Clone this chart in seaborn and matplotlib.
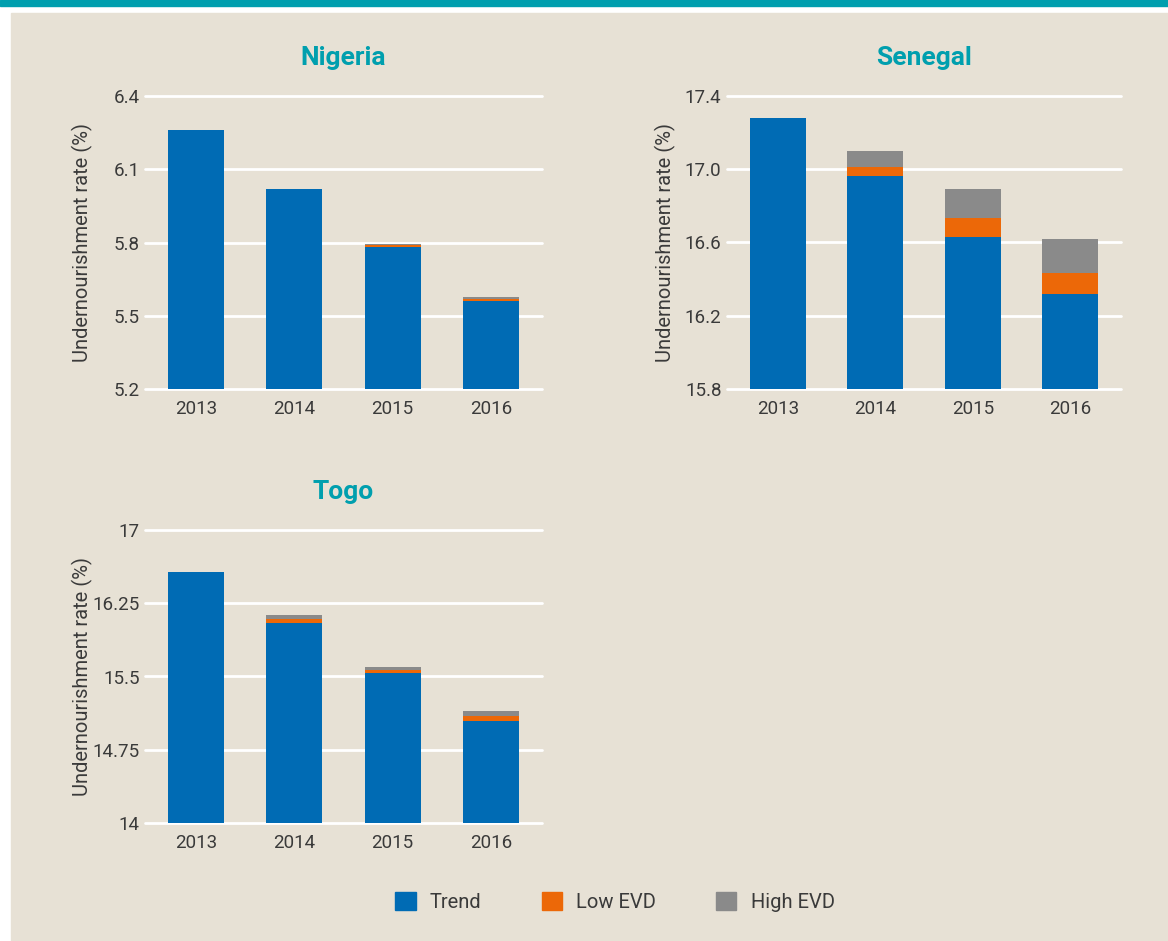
import numpy as np
import pandas as pd
import matplotlib.pyplot as plt
import matplotlib.patches as mpatches
import seaborn as sns

# Data
years = ['2013', '2014', '2015', '2016']

nigeria_trend = [6.26, 6.02, 5.782, 5.560]
nigeria_low = [0.0, 0.0, 0.007, 0.009]
nigeria_high = [0.0, 0.0, 0.005, 0.008]

senegal_trend = [17.28, 16.965, 16.63, 16.32]
senegal_low = [0.0, 0.046, 0.105, 0.113]
senegal_high = [0.0, 0.089, 0.157, 0.186]

togo_trend = [16.57, 16.048, 15.536, 15.044]
togo_low = [0.0, 0.038, 0.031, 0.055]
togo_high = [0.0, 0.044, 0.030, 0.048]

nigeria_ticks = [5.2, 5.5, 5.8, 6.1, 6.4]
nigeria_ticklabels = ['5.2', '5.5', '5.8', '6.1', '6.4']
senegal_ticks = [15.8, 16.2, 16.6, 17.0, 17.4]
senegal_ticklabels = ['15.8', '16.2', '16.6', '17.0', '17.4']
togo_ticks = [14, 14.75, 15.5, 16.25, 17]
togo_ticklabels = ['14', '14.75', '15.5', '16.25', '17']

series_names = ['Trend', 'Low EVD', 'High EVD']

# Styling
BLUE = '#006bb4'
ORANGE = '#ec6808'
GREY = '#8a8a8a'
BG = '#e7e1d5'
TEAL = '#009fae'
TEXT = '#3a3a3a'

sns.set_theme(style='white')
plt.rcParams['font.family'] = ['Roboto', 'DejaVu Sans']

fig = plt.figure(figsize=(11.68, 9.41), dpi=100)
fig.patch.set_facecolor('white')
W, H = 1168, 941
# teal strip and beige panel
fig.patches.append(mpatches.Rectangle((0, 1 - 6 / H), 1, 6 / H, transform=fig.transFigure,
                                      color=TEAL, zorder=-2))
fig.patches.append(mpatches.Rectangle((11 / W, 0), 1 - 11 / W, 1 - 13 / H, transform=fig.transFigure,
                                      color=BG, zorder=-2))


def px_axes(left, top, right, bottom):
    return fig.add_axes([left / W, 1 - bottom / H, (right - left) / W, (bottom - top) / H])


def panel(ax, title, trend, low, high, ticks, ticklabels):
    df = pd.DataFrame({'Year': years, 'Trend': trend, 'Low': low, 'High': high})
    df['TrendLow'] = df['Trend'] + df['Low']
    df['Total'] = df['TrendLow'] + df['High']
    # draw cumulative totals back to front to get stacked look
    for col, color in [('Total', GREY), ('TrendLow', ORANGE), ('Trend', BLUE)]:
        sns.barplot(data=df, x='Year', y=col, color=color, width=0.57,
                    saturation=1, linewidth=0, ax=ax, zorder=3)
    ax.set_facecolor(BG)
    ax.set_xlim(-0.52, 3.52)
    ax.set_ylim(ticks[0], ticks[-1])
    ax.set_yticks(ticks)
    ax.set_yticklabels(ticklabels)
    ax.grid(axis='y', color='white', linewidth=2)
    for gl in ax.get_ygridlines():
        gl.set_clip_on(False)
    ax.set_axisbelow(True)
    for s in ax.spines.values():
        s.set_visible(False)
    ax.tick_params(axis='y', length=0, pad=4, labelsize=13.5, labelcolor=TEXT)
    ax.tick_params(axis='x', length=0, pad=8, labelsize=13.5, labelcolor=TEXT)
    ax.set_xlabel('')
    ax.set_ylabel('Undernourishment rate (%)', fontsize=14.5, color=TEXT)
    ax.yaxis.set_label_coords(-0.13, 0.5)
    ax.set_title(title, fontsize=19, fontweight='bold', color=TEAL, pad=22)


ax1 = px_axes(145, 96, 542, 389)
panel(ax1, 'Nigeria', nigeria_trend, nigeria_low, nigeria_high, nigeria_ticks, nigeria_ticklabels)

ax2 = px_axes(727, 96, 1121, 389)
panel(ax2, 'Senegal', senegal_trend, senegal_low, senegal_high, senegal_ticks, senegal_ticklabels)

ax3 = px_axes(145, 530, 542, 823)
panel(ax3, 'Togo', togo_trend, togo_low, togo_high, togo_ticks, togo_ticklabels)

handles = [mpatches.Patch(color=c) for c in [BLUE, ORANGE, GREY]]
leg = fig.legend(handles, series_names, loc='center', bbox_to_anchor=(615 / W, 1 - 902 / H),
                 ncol=3, frameon=False, fontsize=14.5, handlelength=1.0, handleheight=1.0,
                 handletextpad=0.7, columnspacing=3.0)
for t in leg.get_texts():
    t.set_color(TEXT)

fig.savefig('out.png', dpi=100, facecolor=fig.get_facecolor())
